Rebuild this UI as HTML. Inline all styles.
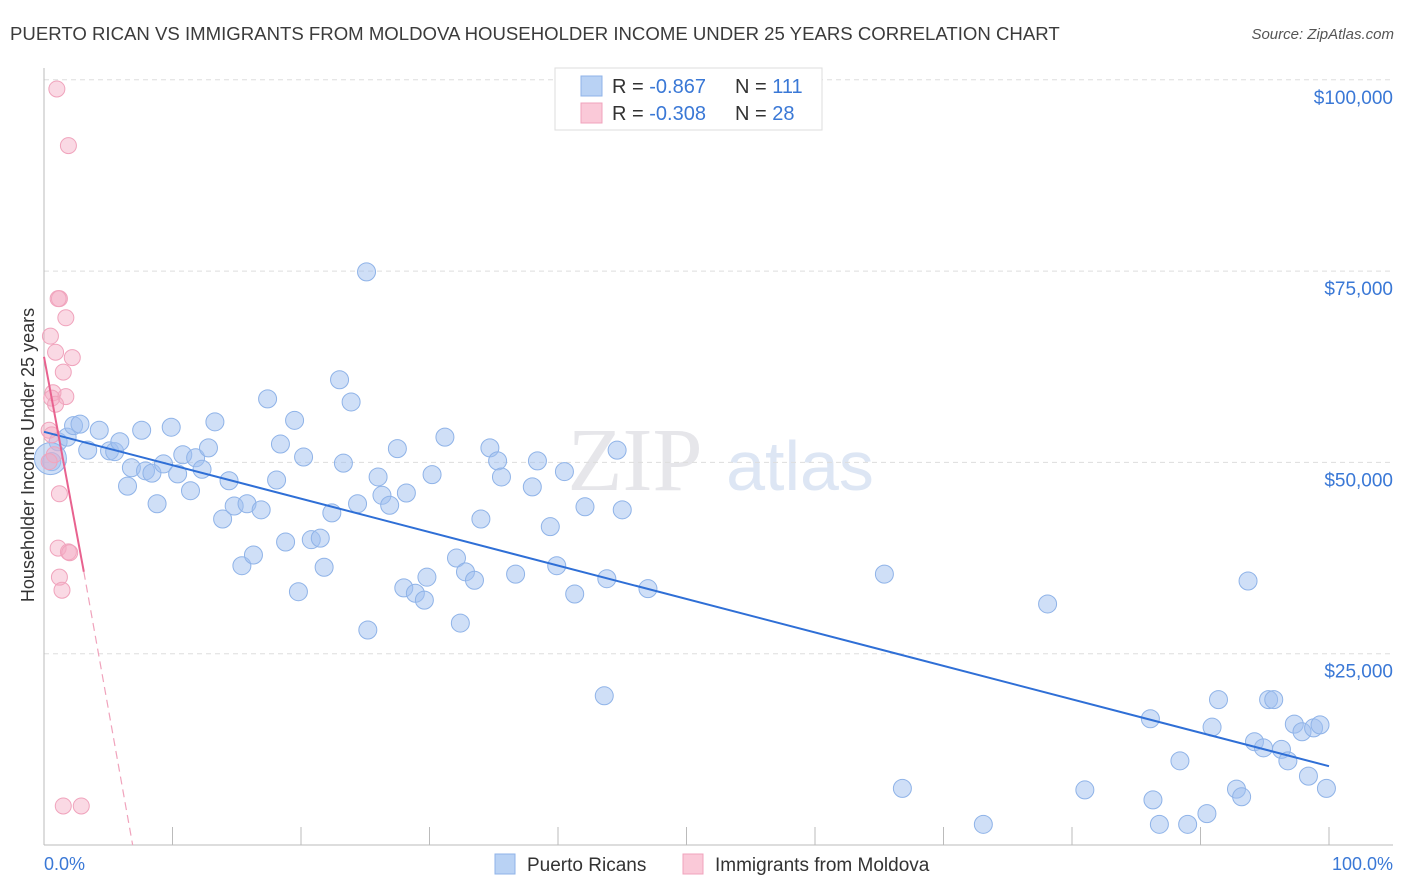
<!DOCTYPE html>
<html><head><meta charset="utf-8">
<style>
body{margin:0;background:#fff;font-family:"Liberation Sans",sans-serif;}
svg{display:block}
</style></head>
<body>
<svg id="chart" width="1406" height="892">
<text x="10" y="40" font-size="18.6" fill="#3b3b3b">PUERTO RICAN VS IMMIGRANTS FROM MOLDOVA HOUSEHOLDER INCOME UNDER 25 YEARS CORRELATION CHART</text>
<text x="1394" y="39" font-size="15" fill="#555" font-style="italic" text-anchor="end">Source: ZipAtlas.com</text>
<text x="635" y="490" font-size="90" fill="#e6e6ea" font-family="Liberation Serif" text-anchor="middle">ZIP</text>
<text x="800" y="490" font-size="70" fill="#dde6f4" text-anchor="middle">atlas</text>
<g id="grid"></g>
<g id="axes"></g>
<g id="marks"></g>
<g>
<rect x="555" y="68" width="267" height="62" fill="#fff" stroke="#ddd"/>
<rect x="581" y="76" width="21" height="20" fill="#b9d2f4" stroke="#8fb3e8"/>
<rect x="581" y="103" width="21" height="20" fill="#fac9d8" stroke="#f0a3bc"/>
<text x="612" y="93" font-size="20" fill="#333">R = <tspan fill="#3a78d6">-0.867</tspan><tspan x="735">N = </tspan><tspan fill="#3a78d6">111</tspan></text>
<text x="612" y="120" font-size="20" fill="#333">R = <tspan fill="#3a78d6">-0.308</tspan><tspan x="735">N = </tspan><tspan fill="#3a78d6"> 28</tspan></text>
</g>
<g>
<rect x="495" y="854" width="20" height="20" fill="#b9d2f4" stroke="#8fb3e8"/>
<text x="527" y="871" font-size="19" fill="#333">Puerto Ricans</text>
<rect x="683" y="854" width="20" height="20" fill="#fac9d8" stroke="#f0a3bc"/>
<text x="715" y="871" font-size="19" fill="#333">Immigrants from Moldova</text>
</g>
<text x="44" y="870" font-size="18" fill="#3a78d6">0.0%</text>
<text x="1393" y="870" font-size="18" fill="#3a78d6" text-anchor="end">100.0%</text>
<text transform="translate(34,455) rotate(-90)" font-size="18" fill="#333" text-anchor="middle">Householder Income Under 25 years</text>
</svg>
<script>
const yTicks=[25000,50000,75000,100000];
const yTickLabels=["$25,000","$50,000","$75,000","$100,000"];
const xTicks=[0,10,20,30,40,50,60,70,80,90,100];
const blueX=[0.6,1.1,1.8,2.3,2.8,3.4,4.3,5.1,5.5,5.9,6.5,6.8,7.6,7.9,8.4,8.8,9.3,9.9,10.4,10.8,11.4,11.8,12.3,12.8,13.3,13.9,14.4,14.8,15.4,15.8,16.3,16.9,17.4,18.1,18.4,18.8,19.5,19.8,20.2,20.8,21.5,21.8,22.4,23.0,23.3,23.9,24.4,25.2,25.1,26.0,26.3,26.9,27.5,28.0,28.2,28.9,29.6,29.8,30.2,31.2,32.1,32.4,32.8,33.5,34.0,34.7,35.3,35.6,36.7,38.0,38.4,39.4,39.9,40.5,41.3,42.1,43.6,43.8,44.6,45.0,47.0,65.4,66.8,73.1,78.1,81.0,86.1,86.3,86.8,88.4,89.0,90.5,90.9,91.4,92.8,93.2,93.7,94.2,94.9,95.3,95.7,96.3,96.8,97.3,97.9,98.4,98.8,99.3,99.8];
const blueY=[50.1,52.7,53.3,54.8,55.0,51.6,54.2,51.5,51.4,52.7,46.9,49.3,54.2,48.9,48.6,44.6,49.8,54.6,48.5,51.0,46.3,50.6,49.1,51.9,55.3,42.6,47.6,44.3,36.5,44.6,37.9,43.8,58.3,47.7,52.4,39.6,55.5,33.1,50.7,39.9,40.1,36.3,43.4,60.8,49.9,57.9,44.6,28.1,74.9,48.1,45.7,44.4,51.8,33.6,46.0,32.9,32.0,35.0,48.4,53.3,37.5,29.0,35.7,34.6,42.6,51.9,50.2,48.1,35.4,46.8,50.2,41.6,36.5,48.8,32.8,44.2,19.5,34.8,51.6,43.8,33.5,35.4,7.4,2.7,31.5,7.2,16.5,5.9,2.7,11.0,2.7,4.1,15.4,19.0,7.3,6.3,34.5,13.5,12.7,19.0,19.0,12.5,11.0,15.8,14.8,9.0,15.3,15.7,7.4];
const pinkX=[1.0,1.9,1.2,1.1,1.7,0.5,0.9,2.2,1.5,0.7,1.7,0.6,0.9,0.4,0.6,0.8,0.4,1.2,1.1,1.9,2.0,1.2,1.4,1.5,2.9];
const pinkY=[98.8,91.4,71.4,71.4,68.9,66.5,64.4,63.7,61.8,59.1,58.6,58.4,57.6,54.2,53.6,51.0,50.1,45.9,38.8,38.3,38.2,35.0,33.3,5.1,5.1];
const blueTrend=[[0,54.0],[100,10.3]];
const pinkTrend=[[0,63.8],[3.1,35.7]];
const pinkDash=[[3.1,35.7],[6.9,0]];
const X=p=>44+p*12.85;
const Y=v=>845-v/25000*191.3;
const Yk=k=>Y(k*1000);
const NS="http://www.w3.org/2000/svg";
function mk(tag,attrs,parent){const e=document.createElementNS(NS,tag);for(const k in attrs)e.setAttribute(k,attrs[k]);document.getElementById(parent).appendChild(e);return e;}
yTicks.forEach((t,i)=>{
 const g=mk('line',{x1:44,x2:1393,y1:Y(t),y2:Y(t),stroke:'#ddd','stroke-dasharray':'5,4'},'grid');
 
 
 const l=mk('text',{x:1393,y:Y(t)+24,'font-size':19,fill:'#3a78d6','text-anchor':'end'},'axes');
 l.textContent=yTickLabels[i];
 
 
});
const ya=mk('line',{x1:44,x2:44,y1:68,y2:845,stroke:'#bbb'},'axes');


const xa=mk('line',{x1:44,x2:1393,y1:845,y2:845,stroke:'#bbb'},'axes');


xTicks.forEach(t=>{
 const e=mk('line',{x1:X(t),x2:X(t),y1:827,y2:845,stroke:'#bbb'},'axes');
 
 
});
blueX.forEach((x,i)=>{
 const c=mk('circle',{cx:X(x),cy:Yk(blueY[i]),r:9,fill:'rgba(160,192,240,0.5)',stroke:'#8fb3e8','stroke-width':1},'marks');
 
 
});
const bigPt=mk('circle',{cx:X(0.5),cy:Yk(50.5),r:16,fill:'rgba(160,192,240,0.5)',stroke:'#8fb3e8'},'marks');


pinkX.forEach((x,i)=>{
 const c=mk('circle',{cx:X(x),cy:Yk(pinkY[i]),r:8,fill:'rgba(245,170,195,0.45)',stroke:'#f0a3bc','stroke-width':1},'marks');
 
 
});
const bl=mk('line',{x1:X(blueTrend[0][0]),y1:Yk(blueTrend[0][1]),x2:X(blueTrend[1][0]),y2:Yk(blueTrend[1][1]),stroke:'#2f6fd6','stroke-width':2},'marks');


const pl=mk('line',{x1:X(pinkTrend[0][0]),y1:Yk(pinkTrend[0][1]),x2:X(pinkTrend[1][0]),y2:Yk(pinkTrend[1][1]),stroke:'#e8628f','stroke-width':2},'marks');


const pd=mk('line',{x1:X(pinkDash[0][0]),y1:Yk(pinkDash[0][1]),x2:X(pinkDash[1][0]),y2:Yk(pinkDash[1][1]),stroke:'#f0a3bc','stroke-width':1.2,'stroke-dasharray':'8,5'},'marks');


</script>
</body></html>
